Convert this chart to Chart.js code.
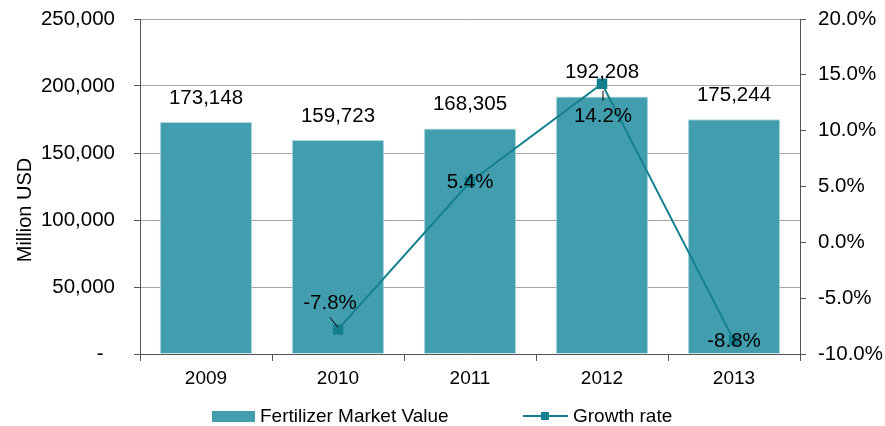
<!DOCTYPE html>
<html>
<head>
<meta charset="utf-8">
<script src="https://cdn.jsdelivr.net/npm/chart.js@4"></script>
<style>
  html, body { margin: 0; padding: 0; background: #fff; }
  #wrap { width: 885px; height: 426px; position: relative; }
</style>
</head>
<body>
<div id="wrap"><canvas id="marketChart"></canvas></div>
<script>
// data
const years = ['2009', '2010', '2011', '2012', '2013'];
const marketValue = [173148, 159723, 168305, 192208, 175244];
const growthRate = [null, -7.8, 5.4, 14.2, -8.8];
const leftTicks = [0, 50000, 100000, 150000, 200000, 250000];
const rightTicks = [-10, -5, 0, 5, 10, 15, 20];

const barColor = '#429eae';
const lineColor = '#14808f';
const FONT = '"Liberation Sans", Arial, sans-serif';
const NUM_SIZE = 20.5;

// where each growth label sits relative to its point (dx, dy)
const growthLabelShift = [null, [-8, -26], [0, 0], [1, 33], [0, 1]];

const labelsPlugin = {
  id: 'labels',
  afterDatasetsDraw(chart) {
    const ctx = chart.ctx;
    ctx.save();
    ctx.font = NUM_SIZE + 'px ' + FONT;
    ctx.fillStyle = '#000';
    ctx.textAlign = 'center';
    ctx.textBaseline = 'middle';

    // bar values
    chart.getDatasetMeta(0).data.forEach((bar, i) => {
      ctx.fillText(marketValue[i].toLocaleString('en-US'), bar.x, bar.y - 24);
    });

    // growth labels
    chart.getDatasetMeta(1).data.forEach((pt, i) => {
      if (growthRate[i] === null) return;
      const s = growthLabelShift[i];
      const lx = pt.x + s[0], ly = pt.y + s[1];
      if (i === 1 || i === 3) {
        ctx.strokeStyle = '#000';
        ctx.lineWidth = 1;
        ctx.beginPath();
        if (i === 1) { ctx.moveTo(lx, ly + 14); ctx.lineTo(pt.x, pt.y - 2); }
        else { ctx.moveTo(pt.x + 1, pt.y + 7); ctx.lineTo(pt.x + 1, pt.y + 17); }
        ctx.stroke();
      }
      ctx.fillText(growthRate[i].toFixed(1) + '%', lx, ly);
    });
    ctx.restore();
  },
  afterDraw(chart) {
    const ctx = chart.ctx;
    ctx.save();
    // y axis title
    ctx.font = '20px ' + FONT;
    ctx.fillStyle = '#000';
    ctx.textAlign = 'center';
    ctx.textBaseline = 'middle';
    ctx.translate(25, 210);
    ctx.rotate(-Math.PI / 2);
    ctx.fillText('Million USD', 0, 0);
    ctx.restore();

    // legend
    ctx.save();
    ctx.font = '19px ' + FONT;
    ctx.fillStyle = barColor;
    ctx.fillRect(212, 411, 43, 11);
    ctx.strokeStyle = lineColor;
    ctx.lineWidth = 2;
    ctx.beginPath();
    ctx.moveTo(523, 416);
    ctx.lineTo(568, 416);
    ctx.stroke();
    ctx.fillStyle = lineColor;
    ctx.fillRect(541, 412, 8, 8);
    ctx.fillStyle = '#000';
    ctx.textBaseline = 'middle';
    ctx.textAlign = 'left';
    ctx.fillText('Fertilizer Market Value', 260, 417);
    ctx.fillText('Growth rate', 573, 417);
    ctx.restore();
  }
};

const ctx = document.getElementById('marketChart').getContext('2d');
new Chart(ctx, {
  type: 'bar',
  data: {
    labels: years,
    datasets: [{
      label: 'Fertilizer Market Value',
      data: marketValue,
      backgroundColor: barColor,
      borderColor: '#b4dbe2',
      borderWidth: 1,
      barPercentage: 0.7,
      categoryPercentage: 1,
      yAxisID: 'y',
      order: 2
    }, {
      type: 'line',
      label: 'Growth rate',
      data: growthRate,
      borderColor: lineColor,
      backgroundColor: lineColor,
      borderWidth: 2,
      pointStyle: 'rect',
      pointRadius: 6,
      pointHoverRadius: 6,
      tension: 0,
      yAxisID: 'y1',
      order: 1
    }]
  },
  options: {
    responsive: true,
    maintainAspectRatio: false,
    animation: false,
    layout: { padding: { top: 19, bottom: 27, left: 0, right: 0 } },
    plugins: {
      legend: { display: false },
      tooltip: { enabled: false }
    },
    scales: {
      x: {
        afterFit(s) { s.height = 45; },
        grid: { offset: true, drawOnChartArea: false, tickLength: 7, tickColor: '#555' },
        border: { color: '#555' },
        ticks: { color: '#000', padding: 6, font: { family: FONT, size: 19 } }
      },
      y: {
        position: 'left',
        min: 0,
        max: 250000,
        afterFit(s) { s.width = 140; s.paddingTop = 0; s.paddingBottom = 0; },
        afterBuildTicks(s) { s.ticks = leftTicks.map(v => ({ value: v })); },
        grid: { color: '#a6a6a6', tickColor: '#555', tickLength: 6 },
        border: { color: '#555' },
        ticks: {
          color: '#000',
          padding: 19,
          font: { family: FONT, size: NUM_SIZE },
          callback: v => v === 0 ? '-  ' : v.toLocaleString('en-US')
        }
      },
      y1: {
        position: 'right',
        min: -10,
        max: 20,
        afterFit(s) { s.width = 85; s.paddingTop = 0; s.paddingBottom = 0; },
        afterBuildTicks(s) { s.ticks = rightTicks.map(v => ({ value: v })); },
        grid: { drawOnChartArea: false, tickColor: '#555', tickLength: 6 },
        border: { color: '#555' },
        ticks: {
          color: '#000',
          padding: 12,
          font: { family: FONT, size: NUM_SIZE },
          callback: v => v.toFixed(1) + '%'
        }
      }
    }
  },
  plugins: [labelsPlugin]
});
</script>
</body>
</html>
